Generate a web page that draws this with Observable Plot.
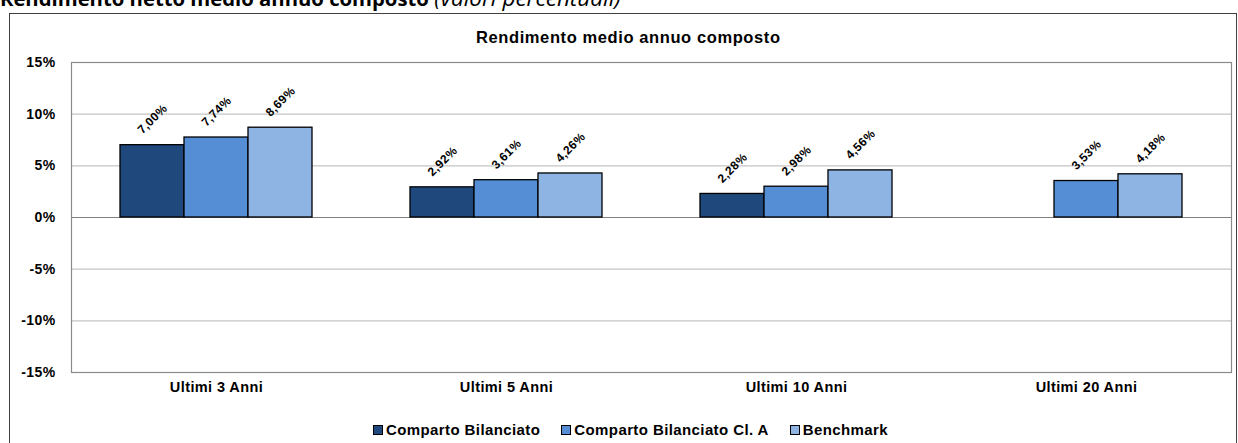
<!DOCTYPE html>
<html>
<head>
<meta charset="utf-8">
<script src="https://cdn.jsdelivr.net/npm/d3@7"></script>
<script src="https://cdn.jsdelivr.net/npm/@observablehq/plot@0.6"></script>
<style>
  html, body { margin: 0; padding: 0; background: #fff; overflow: hidden; }
  #wrap { position: relative; width: 1238px; height: 443px; overflow: hidden; }
  #toptitle { position: absolute; left: 0; top: -12px; font-family: "Open Sans", sans-serif; font-size: 20.3px; line-height: 20px; font-weight: bold; white-space: nowrap; color: #000; }
  #toptitle i { font-weight: normal; font-size: 22.5px; }
  #box { position: absolute; left: 9px; top: 13px; width: 1228px; height: 440px; border: 1px solid #404040; box-sizing: border-box; }
  #charttitle { position: absolute; left: 476px; top: 29px; font-family: "Liberation Sans", Arial, sans-serif; font-size: 16.5px; line-height: 16px; letter-spacing: 0.6px; font-weight: bold; white-space: nowrap; }
  #chart { position: absolute; left: 0; top: 0; }
  #legend { position: absolute; left: 373px; top: 421px; display: flex; gap: 21px; font-family: "Liberation Sans", Arial, sans-serif; font-size: 15px; line-height: 18px; letter-spacing: 0.4px; font-weight: bold; white-space: nowrap; }
  #legend .item { display: flex; align-items: center; gap: 3px; }
  #legend .sw { width: 8px; height: 8px; border: 1px solid #000; }
</style>
</head>
<body>
<div id="wrap">
  <div id="toptitle">Rendimento netto medio annuo composto <i>(valori percentuali)</i></div>
  <div id="box"></div>
  <div id="chart"></div>
  <div id="charttitle">Rendimento medio annuo composto</div>
  <div id="legend"></div>
</div>
<script>
const categories = ["Ultimi 3 Anni", "Ultimi 5 Anni", "Ultimi 10 Anni", "Ultimi 20 Anni"];
const series = ["Comparto Bilanciato", "Comparto Bilanciato Cl. A", "Benchmark"];
const bilanciato = [7.00, 2.92, 2.28, null];
const bilanciatoClA = [7.74, 3.61, 2.98, 3.53];
const benchmark = [8.69, 4.26, 4.56, 4.18];
const yTicks = [-15, -10, -5, 0, 5, 10, 15];
const colors = ["#1F497D", "#558ED5", "#8EB4E3"];

const seriesValues = [bilanciato, bilanciatoClA, benchmark];
const rows = [];
categories.forEach((c, i) => {
  series.forEach((s, j) => {
    const v = seriesValues[j][i];
    if (v != null) rows.push({cat: c, series: s, value: v});
  });
});

const fmt = v => v.toFixed(2).replace(".", ",") + "%";

const chart = Plot.plot({
  width: 1238,
  height: 443,
  marginLeft: 70,
  marginRight: 6,
  marginTop: 62,
  marginBottom: 71,
  style: {fontFamily: "Liberation Sans, Arial, sans-serif", fontSize: "14px", fontWeight: "bold", letterSpacing: "0.4px", color: "#000", background: "transparent"},
  fx: {domain: categories, padding: 0, label: null, axis: null},
  x: {domain: series, paddingInner: 0, paddingOuter: 0.75, axis: null},
  y: {domain: [-15, 15], label: null, axis: null},
  color: {domain: series, range: colors},
  marks: [
    Plot.ruleY(yTicks.filter(t => t !== 0 && Math.abs(t) !== 15), {stroke: "#c4c4c4", strokeWidth: 1.2}),
    Plot.ruleY([0], {stroke: "#808080", strokeWidth: 1.2}),
    Plot.barY(rows, {fx: "cat", x: "series", y: "value", fill: "series", stroke: "#000", strokeWidth: 1.3}),
    Plot.text(rows, {fx: "cat", x: "series", y: "value", text: d => fmt(d.value), rotate: -45, dy: -26, textAnchor: "middle", fontSize: 12, fontWeight: "bold", fill: "#000"}),
    Plot.axisY({ticks: yTicks, tickFormat: d => d + "%", tickSize: 0, tickPadding: 16, fontSize: 14, fontWeight: "bold", fill: "#000", label: null}),
    Plot.axisFx({anchor: "bottom", tickSize: 0, tickPadding: 9, fontSize: 14.5, fontWeight: "bold", fill: "#000", label: null}),
    Plot.frame({facet: "super", stroke: "#8a8a8a", strokeWidth: 1.2})
  ]
});
document.getElementById("chart").appendChild(chart);

const legend = document.getElementById("legend");
series.forEach((s, j) => {
  const item = document.createElement("div");
  item.className = "item";
  const sw = document.createElement("div");
  sw.className = "sw";
  sw.style.background = colors[j];
  const label = document.createElement("span");
  label.textContent = s;
  item.appendChild(sw);
  item.appendChild(label);
  legend.appendChild(item);
});
</script>
</body>
</html>
